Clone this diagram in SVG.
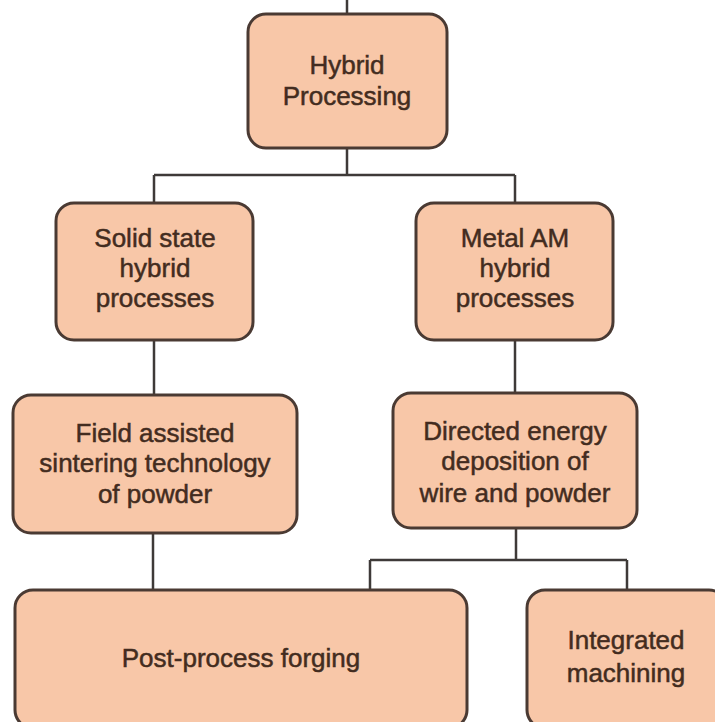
<svg xmlns="http://www.w3.org/2000/svg" width="715" height="722" viewBox="0 0 715 722">
<style>
.box{fill:#f8c7a8;stroke:#4a3a33;stroke-width:3}
.lbl{font-family:"Liberation Sans",Arial,sans-serif;font-size:26px;fill:#432c20;stroke:#432c20;stroke-width:0.5;text-anchor:middle}
.con{fill:none;stroke:#3e3a38;stroke-width:2.5}
</style>
<rect width="715" height="722" fill="#ffffff"/>
<g id="connectors">
<path class="con" d="M347,0 V14"/>
<path class="con" d="M347,148 V175 M154,175 H515 M154,175 V203 M515,175 V203"/>
<path class="con" d="M154,340 V395"/>
<path class="con" d="M515,340 V393"/>
<path class="con" d="M153,533 V590"/>
<path class="con" d="M516,528 V560 M370,560 H627 M370,560 V590 M627,560 V590"/>
</g>
<g id="hybrid-processing">
<rect class="box" x="248" y="14" width="199" height="134" rx="18"/>
<text class="lbl" x="347" y="74">Hybrid</text>
<text class="lbl" x="347" y="105">Processing</text>
</g>
<g id="solid-state">
<rect class="box" x="56" y="203" width="197" height="137" rx="18"/>
<text class="lbl" x="155" y="247">Solid state</text>
<text class="lbl" x="155" y="277">hybrid</text>
<text class="lbl" x="155" y="307">processes</text>
</g>
<g id="metal-am">
<rect class="box" x="416" y="203" width="197" height="137" rx="18"/>
<text class="lbl" x="515" y="247">Metal AM</text>
<text class="lbl" x="515" y="277">hybrid</text>
<text class="lbl" x="515" y="307">processes</text>
</g>
<g id="field-assisted">
<rect class="box" x="13" y="395" width="284" height="138" rx="18"/>
<text class="lbl" x="155" y="442">Field assisted</text>
<text class="lbl" x="155" y="472">sintering technology</text>
<text class="lbl" x="155" y="503">of powder</text>
</g>
<g id="directed-energy">
<rect class="box" x="393" y="393" width="244" height="135" rx="18"/>
<text class="lbl" x="515" y="440">Directed energy</text>
<text class="lbl" x="515" y="470">deposition of</text>
<text class="lbl" x="515" y="502">wire and powder</text>
</g>
<g id="post-process-forging">
<rect class="box" x="15" y="590" width="452" height="138" rx="18"/>
<text class="lbl" x="241" y="667">Post-process forging</text>
</g>
<g id="integrated-machining">
<rect class="box" x="527" y="590" width="200" height="138" rx="18"/>
<text class="lbl" x="626" y="649">Integrated</text>
<text class="lbl" x="626" y="682">machining</text>
</g>
</svg>
